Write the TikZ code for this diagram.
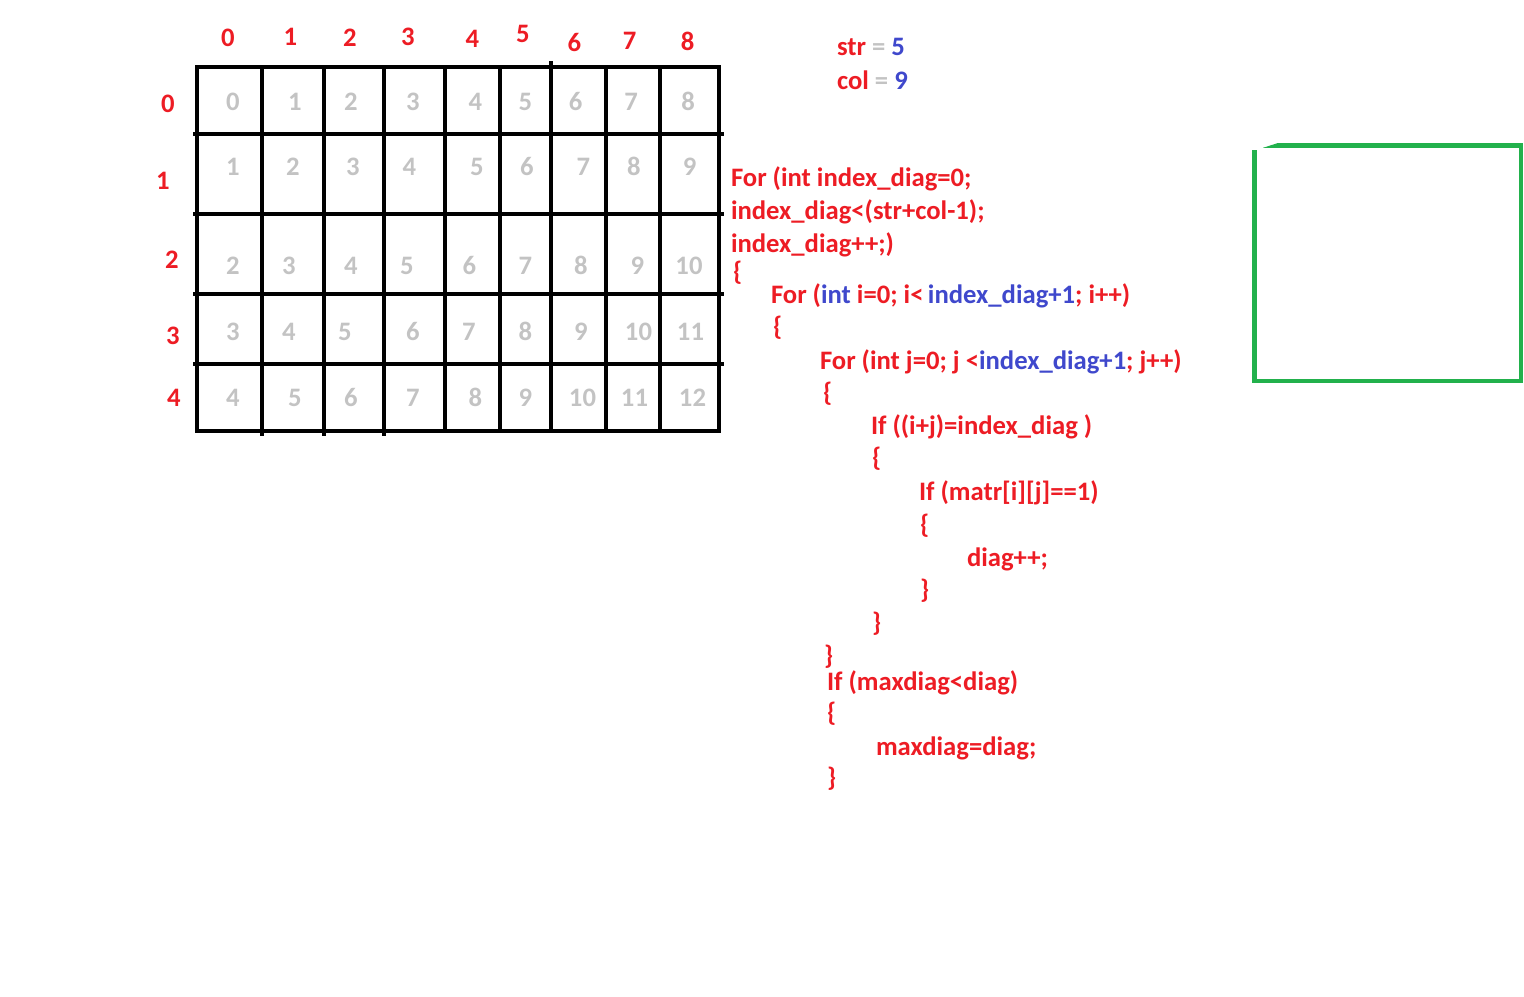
\documentclass[tikz,border=0pt]{standalone}
\usepackage{fontspec}
\setmainfont{Carlito}
\definecolor{pred}{HTML}{ED1C24}
\definecolor{pblue}{HTML}{3F48CC}
\definecolor{pgray}{HTML}{C3C3C3}
\definecolor{pgreen}{HTML}{22B14C}
\tikzset{
  txt/.style={font=\fontsize{20}{24}\selectfont\bfseries, inner sep=0pt, outer sep=0pt},
  code/.style={txt, text=pred, anchor=base west},
  lbl/.style={txt, text=pred, anchor=base},
  cell/.style={txt, text=pgray, anchor=base},
  gridline/.style={line width=3.4pt, black, line cap=rect},
  greenbox/.style={line width=3.4pt, pgreen, line join=miter},
}
\newcommand{\bl}[1]{\textcolor{pblue}{#1}}
\newcommand{\gr}[1]{\textcolor{pgray}{#1}}
\begin{document}
\begin{tikzpicture}[x=0.75pt,y=-0.75pt]
\useasboundingbox (0,0) rectangle (1524,996);
% grid
\draw[gridline] (197,67) rectangle (719,431);
\foreach \x in {262,324,384} \draw[gridline] (\x,67) -- (\x,434);
\draw[gridline] (551,63) -- (551,431);
\foreach \x in {445,500,606,660} \draw[gridline] (\x,67) -- (\x,431);
\foreach \y in {134,214,294,364} \draw[gridline] (195,\y) -- (722,\y);
% column labels
\foreach \x/\y/\v [count=\k] in {228/46.5/0,290.5/45/1,350/46/2,408/45/3,472.5/47.5/4,523/42/5,574.5/51.5/6,629.5/49.5/7,687.5/50.5/8}
  \node[lbl] (col\k) at (\x,\y) {\v};
% row labels
\foreach \x/\y/\v [count=\k] in {168/112/0,163/189/1,172/268.5/2,173/344.5/3,174/406.5/4}
  \node[lbl] (row\k) at (\x,\y) {\v};
% cell values
\foreach \x/\v [count=\k] in {233/0,295/1,351/2,413/3,475.5/4,525.5/5,575.5/6,631/7,688/8}
  \node[cell] (a\k) at (\x,110) {\v};
\foreach \x/\v [count=\k] in {233/1,293/2,353/3,409.5/4,477/5,527/6,583.5/7,634/8,689.5/9}
  \node[cell] (b\k) at (\x,175.5) {\v};
\foreach \x/\v [count=\k] in {233/2,289/3,351/4,407/5,469.5/6,525.5/7,581/8,637.5/9,689/10}
  \node[cell] (c\k) at (\x,274.5) {\v};
\foreach \x/\v [count=\k] in {233/3,289/4,345/5,413/6,469/7,525.5/8,581/9,638.5/10,690.5/11}
  \node[cell] (d\k) at (\x,340.5) {\v};
\foreach \x/\v [count=\k] in {233/4,295/5,351/6,413/7,475.5/8,525.5/9,582.5/10,634.5/11,692.5/12}
  \node[cell] (e\k) at (\x,406.5) {\v};
% sizes
\node[code] (str) at (837,55.7) {str \gr{=} \bl{5}};
\node[code] (colv) at (837,89) {col \gr{=} \bl{9}};
% code
\node[code] (l1) at (731,186) {For (int index\_diag=0;};
\node[code] (l2) at (731,219) {index\_diag<(str+col-1);};
\node[code] (l3) at (731,252) {index\_diag++;)};
\node[code] (l4) at (733,280) {\{};
\node[code] (l5) at (771,303.3) {For (\bl{int} i=0; i<\,\bl{index\_diag+1}; i++)};
\node[code] (l6) at (773,335.5) {\{};
\node[code] (l7) at (820,369.3) {For (int j=0; j <\bl{index\_diag+1}; j++)};
\node[code] (l8) at (823,401) {\{};
\node[code] (l9) at (871,434.3) {If ((i+j)=index\_diag )};
\node[code] (l10) at (872,466.5) {\{};
\node[code] (l11) at (919,500) {If (matr[i][j]==1)};
\node[code] (l12) at (920,533) {\{};
\node[code] (l13) at (967,566) {diag++;};
\node[code] (l14) at (920,598.5) {\}};
\node[code] (l15) at (872,631.5) {\}};
\node[code] (l16) at (824,664) {\}};
\node[code] (l17) at (827,690) {If (maxdiag<diag)};
\node[code] (l18) at (827,721.5) {\{};
\node[code] (l19) at (876,755) {maxdiag=diag;};
\node[code] (l20) at (827,786.5) {\}};
% green box
\draw[greenbox] (1277,145.5) -- (1521,145.5) -- (1521,381) -- (1254.5,381) -- (1254.5,150);
\fill[pgreen] (1263,147.8) -- (1277,143.3) -- (1277,147.8) -- cycle;
\end{tikzpicture}
\end{document}
